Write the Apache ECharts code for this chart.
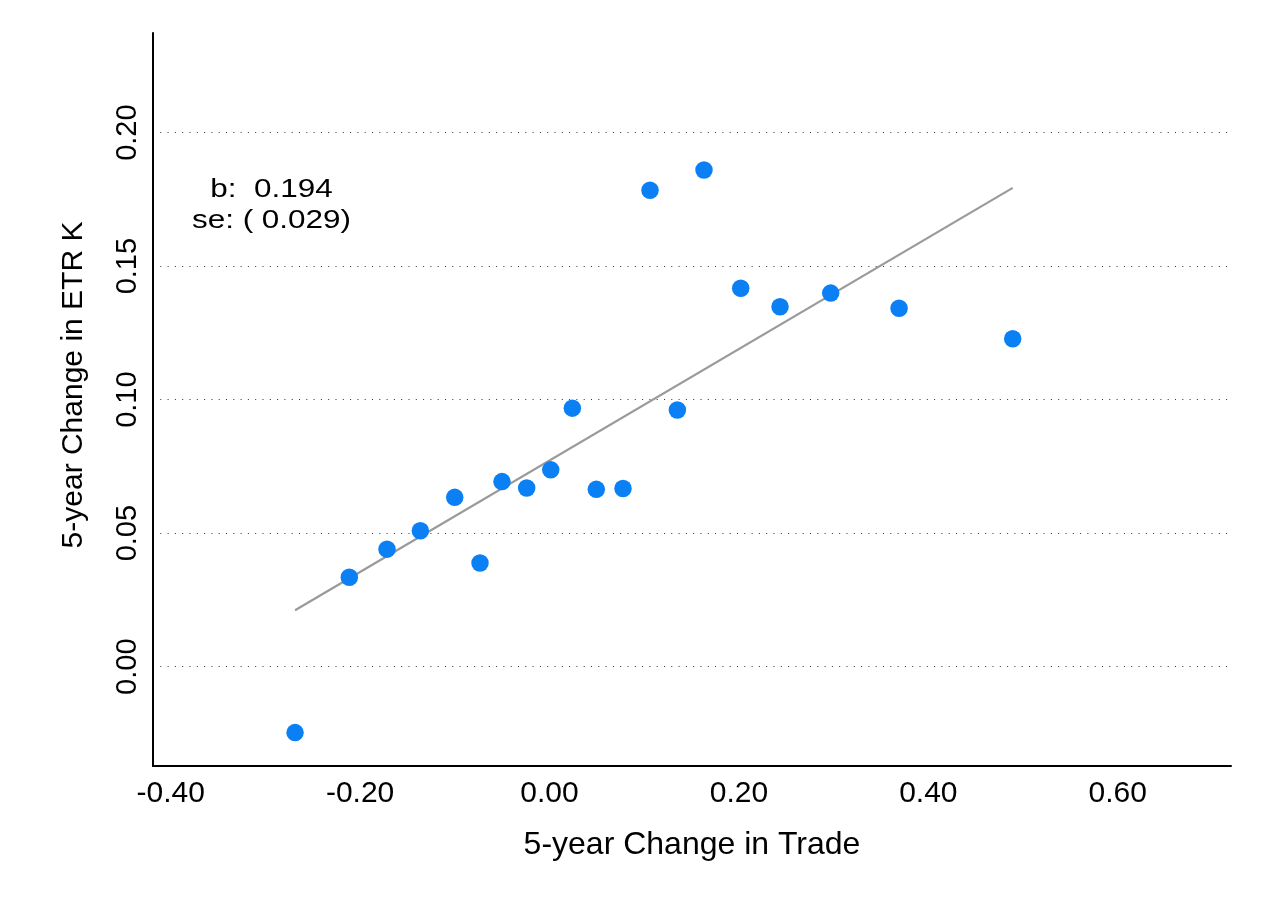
<!DOCTYPE html>
<html><head><meta charset="utf-8">
<script src="https://cdn.jsdelivr.net/npm/echarts@6/dist/echarts.min.js"></script>
<style>html,body{margin:0;padding:0;background:#fff}#c{width:1265px;height:920px}</style>
</head><body><div id="c"></div>
<script>
// Scatter points: 5-year change in trade (x) vs 5-year change in ETR K (y)
const tradeChange = [-0.2687, -0.2114, -0.1716, -0.1364, -0.1001, -0.0734, -0.0502, -0.0241, 0.0013, 0.0241,
                     0.0494, 0.0776, 0.1061, 0.1350, 0.1631, 0.2019, 0.2434, 0.2969, 0.3691, 0.4891];
const etrChange   = [-0.0247, 0.0335, 0.0440, 0.0509, 0.0634, 0.0388, 0.0693, 0.0669, 0.0737, 0.0968,
                     0.0664, 0.0667, 0.1784, 0.0961, 0.1860, 0.1417, 0.1348, 0.1399, 0.1342, 0.1228];
// Fitted line endpoints
const fitX = [-0.2687, 0.4891];
const fitY = [0.0211, 0.1793];
// Axis ranges
const xRange = [-0.4187, 0.7196];
const yRange = [-0.0372, 0.2373];
// Texts
const xTitle = '5-year Change in Trade';
const yTitle = '5-year Change in ETR K';
const annoLines = ['b:  0.194', 'se: ( 0.029)'];

const FONT = '"Liberation Sans", Arial, Helvetica, sans-serif';
const chart = echarts.init(document.getElementById('c'), null, {renderer: 'canvas'});

const points = tradeChange.map((x, i) => [x, etrChange[i]]);
const fitLine = fitX.map((x, i) => [x, fitY[i]]);

chart.setOption({
  animation: false,
  backgroundColor: '#ffffff',
  grid: {left: 153, right: 34, top: 33, bottom: 154, containLabel: false},
  xAxis: {
    type: 'value', min: xRange[0], max: xRange[1], splitNumber: 5,
    axisLine: {show: true, onZero: false, lineStyle: {color: '#000', width: 2}},
    axisTick: {show: false},
    splitLine: {show: false},
    axisLabel: {
      fontFamily: FONT, fontSize: 30, color: '#000', margin: 13,
      showMinLabel: false, showMaxLabel: false,
      formatter: v => v.toFixed(2)
    }
  },
  yAxis: {
    type: 'value', min: yRange[0], max: yRange[1], splitNumber: 5,
    axisLine: {show: true, onZero: false, lineStyle: {color: '#000', width: 2}},
    axisTick: {show: false},
    splitLine: {show: true, showMinLine: false, showMaxLine: false,
      lineStyle: {color: '#333', width: 1, type: [1, 6.3]}},
    axisLabel: {
      fontFamily: FONT, fontSize: 29, color: '#000', margin: 11, rotate: 90,
      showMinLabel: false, showMaxLabel: false,
      formatter: v => v.toFixed(2)
    }
  },
  series: [
    {
      type: 'line', data: fitLine, symbol: 'none', z: 2,
      lineStyle: {color: '#9a9a9a', width: 2.2}, silent: true
    },
    {
      type: 'scatter', data: points, symbol: 'circle', symbolSize: 17.5, z: 3,
      itemStyle: {color: '#0b80f4', opacity: 1}
    }
  ],
  graphic: [
    {type: 'text', x: 692, y: 845, style: {text: xTitle, font: '32px ' + FONT, fill: '#000', align: 'center', verticalAlign: 'middle'}},
    {type: 'text', x: 74, y: 385, rotation: Math.PI / 2, style: {text: yTitle, font: '30px ' + FONT, fill: '#000', align: 'center', verticalAlign: 'middle'}},
    {type: 'text', x: 271.5, y: 189.5, scaleX: 1.21, style: {text: annoLines[0], font: '26px ' + FONT, fill: '#000', align: 'center', verticalAlign: 'middle'}},
    {type: 'text', x: 271.5, y: 221, scaleX: 1.21, style: {text: annoLines[1], font: '26px ' + FONT, fill: '#000', align: 'center', verticalAlign: 'middle'}}
  ]
});
</script>
</body></html>
